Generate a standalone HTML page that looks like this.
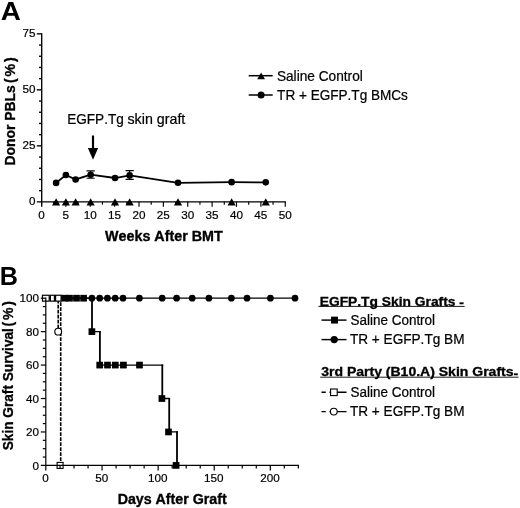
<!DOCTYPE html>
<html lang="en"><head><meta charset="utf-8"><title>Figure</title>
<style>html,body{margin:0;padding:0;background:#fff;}body{width:520px;height:508px;overflow:hidden;}svg{display:block;}</style>
</head><body>
<svg width="520" height="508" viewBox="0 0 520 508">
<rect width="520" height="508" fill="#fff"/>
<g font-family="'Liberation Sans', sans-serif" fill="#000" style="font-kerning:none">
<text transform="translate(0.8 19.8) scale(1.05 1)" font-size="26.5" font-weight="bold">A</text>
<text x="-0.3" y="285.2" font-size="25.2" font-weight="bold">B</text>
<g stroke="#000" stroke-width="1.35" fill="none" stroke-linecap="butt">
<path d="M41.7 33.15V206.85"/>
<path d="M36.80 201.85H285.85"/>
<path d="M39.00 190.65H41.7"/>
<path d="M39.00 179.45H41.7"/>
<path d="M39.00 168.25H41.7"/>
<path d="M39.00 157.05H41.7"/>
<path d="M36.80 145.85H41.7"/>
<path d="M39.00 134.65H41.7"/>
<path d="M39.00 123.45H41.7"/>
<path d="M39.00 112.25H41.7"/>
<path d="M39.00 101.05H41.7"/>
<path d="M36.80 89.85H41.7"/>
<path d="M39.00 78.65H41.7"/>
<path d="M39.00 67.45H41.7"/>
<path d="M39.00 56.25H41.7"/>
<path d="M39.00 45.05H41.7"/>
<path d="M36.80 33.85H41.7"/>
</g>
<g stroke="#000" stroke-width="1.15" fill="none" stroke-linecap="butt">
<path d="M53.69 201.85V204.65"/>
<path d="M65.88 201.85V206.85"/>
<path d="M78.06 201.85V204.65"/>
<path d="M90.25 201.85V206.85"/>
<path d="M102.44 201.85V204.65"/>
<path d="M114.62 201.85V206.85"/>
<path d="M126.81 201.85V204.65"/>
<path d="M139.00 201.85V206.85"/>
<path d="M151.19 201.85V204.65"/>
<path d="M163.38 201.85V206.85"/>
<path d="M175.56 201.85V204.65"/>
<path d="M187.75 201.85V206.85"/>
<path d="M199.94 201.85V204.65"/>
<path d="M212.12 201.85V206.85"/>
<path d="M224.31 201.85V204.65"/>
<path d="M236.50 201.85V206.85"/>
<path d="M248.69 201.85V204.65"/>
<path d="M260.88 201.85V206.85"/>
<path d="M273.06 201.85V204.65"/>
<path d="M285.25 201.85V206.85"/>
</g>
<text x="35.4" y="205.05" font-size="11.7" stroke="#000" stroke-width="0.2" text-anchor="end">0</text>
<text x="35.4" y="149.05" font-size="11.7" stroke="#000" stroke-width="0.2" text-anchor="end">25</text>
<text x="35.4" y="93.05" font-size="11.7" stroke="#000" stroke-width="0.2" text-anchor="end">50</text>
<text x="35.4" y="37.05" font-size="11.7" stroke="#000" stroke-width="0.2" text-anchor="end">75</text>
<text x="41.50" y="218.8" font-size="11.7" stroke="#000" stroke-width="0.2" text-anchor="middle">0</text>
<text x="65.88" y="218.8" font-size="11.7" stroke="#000" stroke-width="0.2" text-anchor="middle">5</text>
<text x="90.25" y="218.8" font-size="11.7" stroke="#000" stroke-width="0.2" text-anchor="middle">10</text>
<text x="114.62" y="218.8" font-size="11.7" stroke="#000" stroke-width="0.2" text-anchor="middle">15</text>
<text x="139.00" y="218.8" font-size="11.7" stroke="#000" stroke-width="0.2" text-anchor="middle">20</text>
<text x="163.38" y="218.8" font-size="11.7" stroke="#000" stroke-width="0.2" text-anchor="middle">25</text>
<text x="187.75" y="218.8" font-size="11.7" stroke="#000" stroke-width="0.2" text-anchor="middle">30</text>
<text x="212.12" y="218.8" font-size="11.7" stroke="#000" stroke-width="0.2" text-anchor="middle">35</text>
<text x="236.50" y="218.8" font-size="11.7" stroke="#000" stroke-width="0.2" text-anchor="middle">40</text>
<text x="260.88" y="218.8" font-size="11.7" stroke="#000" stroke-width="0.2" text-anchor="middle">45</text>
<text x="285.25" y="218.8" font-size="11.7" stroke="#000" stroke-width="0.2" text-anchor="middle">50</text>
<text transform="translate(14.5 165.5) rotate(-90)" font-size="14.1" font-weight="bold" stroke="#000" stroke-width="0.3"><tspan x="0" textLength="80.3" lengthAdjust="spacingAndGlyphs">Donor PBLs</tspan> <tspan x="82.6" textLength="25.6" lengthAdjust="spacing">(%)</tspan></text>
<text x="105.1" y="240.5" font-size="14.1" font-weight="bold" textLength="117.6" lengthAdjust="spacingAndGlyphs" stroke="#000" stroke-width="0.35">Weeks After BMT</text>
<text y="123.5" font-size="14.2" stroke="#000" stroke-width="0.22"><tspan x="67.2" textLength="56.6" lengthAdjust="spacingAndGlyphs">EGFP.Tg</tspan> <tspan x="127.5" textLength="57.8" lengthAdjust="spacingAndGlyphs">skin graft</tspan></text>
<path d="M93 135.5V150" stroke="#000" stroke-width="2.2" fill="none"/>
<path d="M87.9 148H98.1L93 159.8Z"/>
<polyline fill="none" stroke="#000" stroke-width="1.75" points="56.12,182.92 65.88,174.97 75.62,179.45 90.65,174.75 115.03,177.99 129.65,175.42 178.00,182.81 231.62,182.14 265.75,182.36"/>
<path d="M90.65 170.80V178.25M86.55 170.80H94.75M86.55 178.25H94.75" stroke="#000" stroke-width="1.2" fill="none"/>
<path d="M129.65 170.62V179.32M125.55 170.62H133.75M125.55 179.32H133.75" stroke="#000" stroke-width="1.2" fill="none"/>
<circle cx="56.12" cy="182.92" r="3.3"/>
<circle cx="65.88" cy="174.97" r="3.3"/>
<circle cx="75.62" cy="179.45" r="3.3"/>
<circle cx="90.65" cy="174.75" r="3.3"/>
<circle cx="115.03" cy="177.99" r="3.3"/>
<circle cx="129.65" cy="175.42" r="3.3"/>
<circle cx="178.00" cy="182.81" r="3.3"/>
<circle cx="231.62" cy="182.14" r="3.3"/>
<circle cx="265.75" cy="182.36" r="3.3"/>
<path d="M52.02 205.45H60.23L56.12 198.35Z"/>
<path d="M61.77 205.45H69.97L65.88 198.35Z"/>
<path d="M71.53 205.45H79.72L75.62 198.35Z"/>
<path d="M86.55 205.45H94.75L90.65 198.35Z"/>
<path d="M110.93 205.45H119.12L115.03 198.35Z"/>
<path d="M125.55 205.45H133.75L129.65 198.35Z"/>
<path d="M173.90 205.45H182.10L178.00 198.35Z"/>
<path d="M227.53 205.45H235.72L231.62 198.35Z"/>
<path d="M261.65 205.45H269.85L265.75 198.35Z"/>
<path d="M248.7 75.7H272.7" stroke="#000" stroke-width="1.5"/>
<path d="M257.20 79.20H265.00L261.1 72.40Z"/>
<text x="276.9" y="80.6" font-size="14.2" stroke="#000" stroke-width="0.22" textLength="85.9" lengthAdjust="spacingAndGlyphs">Saline Control</text>
<path d="M248.7 95.0H272.7" stroke="#000" stroke-width="1.5"/>
<circle cx="261.1" cy="95.0" r="3.5"/>
<text x="277.1" y="99.8" font-size="14.2" stroke="#000" stroke-width="0.22" textLength="130.8" lengthAdjust="spacingAndGlyphs">TR + EGFP.Tg BMCs</text>
<path d="M46 298.20H295" stroke="#000" stroke-width="1.2" fill="none"/>
<path d="M46 298.20H92.90M92.0 331.64H100.80M99.9 365.08H163.20M162.3 398.52H170.10M169.2 431.96H177.90" stroke="#000" stroke-width="1.3" fill="none"/>
<path d="M92.0 297.60V331.64M99.9 331.04V365.08M162.3 364.48V398.52M169.2 397.92V431.96M177.0 431.36V465.40" stroke="#000" stroke-width="1.8" fill="none"/>
<path d="M58.2 299.70V331.64" stroke="#000" stroke-width="1.6" stroke-dasharray="3.7 1.3" fill="none"/>
<path d="M60.7 302.20V465.40" stroke="#000" stroke-width="1.6" stroke-dasharray="3.7 1.3" fill="none"/>
<rect x="42.5" y="295.25" width="6.70" height="5.9" fill="#fff" stroke="#000" stroke-width="1.2"/>
<rect x="50.4" y="295.25" width="4.00" height="5.9" fill="#fff" stroke="#000" stroke-width="1.2"/>
<rect x="55.6" y="295.25" width="5.50" height="5.9" fill="#fff" stroke="#000" stroke-width="1.2"/>
<circle cx="58.2" cy="331.64" r="3.4" fill="#fff" stroke="#000" stroke-width="1.15"/>
<rect x="57.10" y="462.40" width="6.0" height="6.0" fill="#fff" stroke="#000" stroke-width="1.1"/>
<rect x="61.25" y="294.85" width="6.7" height="6.7"/>
<rect x="66.15" y="294.85" width="6.7" height="6.7"/>
<rect x="73.15" y="294.85" width="6.7" height="6.7"/>
<rect x="80.25" y="294.85" width="6.7" height="6.7"/>
<rect x="88.55" y="328.29" width="6.7" height="6.7"/>
<rect x="96.35" y="361.73" width="6.7" height="6.7"/>
<rect x="104.15" y="361.73" width="6.7" height="6.7"/>
<rect x="111.95" y="361.73" width="6.7" height="6.7"/>
<rect x="120.05" y="361.73" width="6.7" height="6.7"/>
<rect x="136.15" y="361.73" width="6.7" height="6.7"/>
<rect x="158.55" y="395.17" width="6.7" height="6.7"/>
<rect x="165.15" y="428.61" width="6.7" height="6.7"/>
<rect x="172.75" y="462.05" width="6.7" height="6.7"/>
<circle cx="91.9" cy="298.20" r="3.35"/>
<circle cx="99.7" cy="298.20" r="3.35"/>
<circle cx="107.4" cy="298.20" r="3.35"/>
<circle cx="115.2" cy="298.20" r="3.35"/>
<circle cx="123.0" cy="298.20" r="3.35"/>
<circle cx="139.4" cy="298.20" r="3.35"/>
<circle cx="162.2" cy="298.20" r="3.35"/>
<circle cx="176.6" cy="298.20" r="3.35"/>
<circle cx="192.2" cy="298.20" r="3.35"/>
<circle cx="208.9" cy="298.20" r="3.35"/>
<circle cx="231.4" cy="298.20" r="3.35"/>
<circle cx="247.0" cy="298.20" r="3.35"/>
<circle cx="270.4" cy="298.20" r="3.35"/>
<circle cx="295.0" cy="298.20" r="3.35"/>
<g stroke="#000" stroke-width="1.2" fill="none">
<path d="M45.8 297.60V470.50"/>
<path d="M40.80 465.4H298.94"/>
<path d="M42.80 457.04H45.8"/>
<path d="M42.80 448.68H45.8"/>
<path d="M42.80 440.32H45.8"/>
<path d="M40.80 431.96H45.8"/>
<path d="M42.80 423.60H45.8"/>
<path d="M42.80 415.24H45.8"/>
<path d="M42.80 406.88H45.8"/>
<path d="M40.80 398.52H45.8"/>
<path d="M42.80 390.16H45.8"/>
<path d="M42.80 381.80H45.8"/>
<path d="M42.80 373.44H45.8"/>
<path d="M40.80 365.08H45.8"/>
<path d="M42.80 356.72H45.8"/>
<path d="M42.80 348.36H45.8"/>
<path d="M42.80 340.00H45.8"/>
<path d="M40.80 331.64H45.8"/>
<path d="M42.80 323.28H45.8"/>
<path d="M42.80 314.92H45.8"/>
<path d="M42.80 306.56H45.8"/>
<path d="M40.80 298.20H45.8"/>
<path d="M60.02 465.4V468.50"/>
<path d="M74.04 465.4V468.50"/>
<path d="M88.06 465.4V468.50"/>
<path d="M102.07 465.4V470.50"/>
<path d="M116.09 465.4V468.50"/>
<path d="M130.11 465.4V468.50"/>
<path d="M144.13 465.4V468.50"/>
<path d="M158.15 465.4V470.50"/>
<path d="M172.17 465.4V468.50"/>
<path d="M186.19 465.4V468.50"/>
<path d="M200.21 465.4V468.50"/>
<path d="M214.22 465.4V470.50"/>
<path d="M228.24 465.4V468.50"/>
<path d="M242.26 465.4V468.50"/>
<path d="M256.28 465.4V468.50"/>
<path d="M270.30 465.4V470.50"/>
<path d="M284.32 465.4V468.50"/>
<path d="M298.34 465.4V468.50"/>
</g>
<text x="39.1" y="469.50" font-size="11.7" stroke="#000" stroke-width="0.2" text-anchor="end">0</text>
<text x="39.1" y="436.06" font-size="11.7" stroke="#000" stroke-width="0.2" text-anchor="end">20</text>
<text x="39.1" y="402.62" font-size="11.7" stroke="#000" stroke-width="0.2" text-anchor="end">40</text>
<text x="39.1" y="369.18" font-size="11.7" stroke="#000" stroke-width="0.2" text-anchor="end">60</text>
<text x="39.1" y="335.74" font-size="11.7" stroke="#000" stroke-width="0.2" text-anchor="end">80</text>
<text x="39.1" y="302.30" font-size="11.7" stroke="#000" stroke-width="0.2" text-anchor="end">100</text>
<text x="45.60" y="482.2" font-size="11.7" stroke="#000" stroke-width="0.2" text-anchor="middle">0</text>
<text x="101.67" y="482.2" font-size="11.7" stroke="#000" stroke-width="0.2" text-anchor="middle">50</text>
<text x="157.75" y="482.2" font-size="11.7" stroke="#000" stroke-width="0.2" text-anchor="middle">100</text>
<text x="213.82" y="482.2" font-size="11.7" stroke="#000" stroke-width="0.2" text-anchor="middle">150</text>
<text x="269.90" y="482.2" font-size="11.7" stroke="#000" stroke-width="0.2" text-anchor="middle">200</text>
<text transform="translate(12.6 450.3) rotate(-90)" font-size="14" font-weight="bold" stroke="#000" stroke-width="0.3"><tspan x="0" textLength="122.2" lengthAdjust="spacingAndGlyphs">Skin Graft Survival</tspan> <tspan x="123.8" textLength="25.5" lengthAdjust="spacing">(%)</tspan></text>
<text x="117.7" y="503.9" font-size="14.1" font-weight="bold" textLength="109" lengthAdjust="spacingAndGlyphs" stroke="#000" stroke-width="0.35">Days After Graft</text>
<text x="319.7" y="305.5" font-size="12.2" font-weight="bold" textLength="144.2" lengthAdjust="spacingAndGlyphs" stroke="#000" stroke-width="0.3">EGFP.Tg Skin Grafts <tspan dy="1.1">-</tspan></text>
<path d="M318.4 306.4H464.6" stroke="#000" stroke-width="0.9"/>
<path d="M321.5 320.1H346.5" stroke="#000" stroke-width="1.45"/>
<rect x="331.05" y="316.65" width="6.9" height="6.9"/>
<text x="350.5" y="325.0" font-size="13.85" stroke="#000" stroke-width="0.22" textLength="84.6" lengthAdjust="spacingAndGlyphs">Saline Control</text>
<path d="M321.5 339.6H346.5" stroke="#000" stroke-width="1.45"/>
<circle cx="334.2" cy="339.6" r="3.65"/>
<text x="349.9" y="344.0" font-size="13.85" stroke="#000" stroke-width="0.22" textLength="114.6" lengthAdjust="spacingAndGlyphs">TR + EGFP.Tg BM</text>
<text x="321.2" y="376.2" font-size="11.9" font-weight="bold" textLength="197.0" lengthAdjust="spacingAndGlyphs" stroke="#000" stroke-width="0.3">3rd Party (B10.A) Skin Grafts<tspan dy="1.7">-</tspan></text>
<path d="M320.2 377.2H518.6" stroke="#000" stroke-width="0.9"/>
<path d="M321.5 392.3H325.8M329.5 392.3H346.5" stroke="#000" stroke-width="1.45"/>
<rect x="330.60" y="389.00" width="6.6" height="6.6" fill="#fff" stroke="#000" stroke-width="1.1"/>
<text x="350.5" y="397.1" font-size="13.85" stroke="#000" stroke-width="0.22" textLength="84.6" lengthAdjust="spacingAndGlyphs">Saline Control</text>
<path d="M321.5 411.6H325.8M329.5 411.6H346.5" stroke="#000" stroke-width="1.45"/>
<circle cx="333.8" cy="411.6" r="3.4" fill="#fff" stroke="#000" stroke-width="1.1"/>
<text x="349.9" y="416.0" font-size="13.85" stroke="#000" stroke-width="0.22" textLength="114.6" lengthAdjust="spacingAndGlyphs">TR + EGFP.Tg BM</text>
</g></svg>
</body></html>
